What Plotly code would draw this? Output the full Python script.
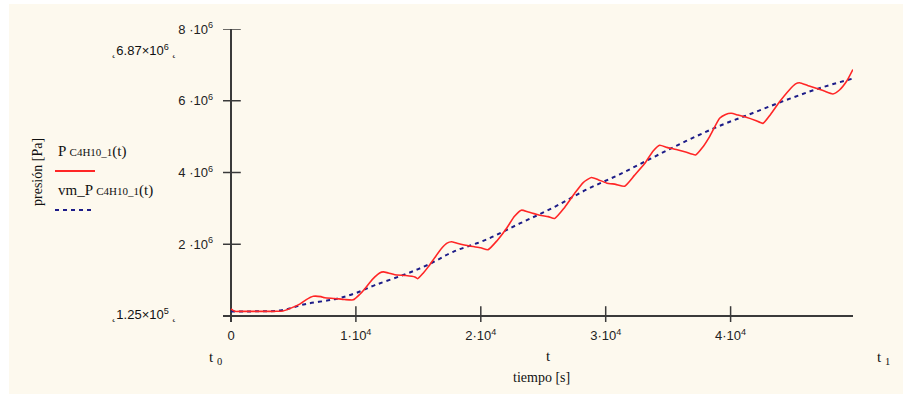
import plotly.graph_objects as go

# ---------------- data ----------------
t_P = [0, 300, 800, 2000, 3500, 4160, 4800, 5500, 6000, 6590, 7200, 7500, 8300, 9100, 9790,
       10300, 10720, 11100, 11520, 11900, 12190, 12600, 13120, 14000, 14720, 14940,
       15400, 15790, 16300, 16850, 17300, 17650, 18100, 19120, 20000, 20590,
       21300, 22050, 22700, 23250, 23800, 24720, 25400, 25920,
       26700, 27520, 28200, 28850, 29400, 30050, 30800, 31520,
       32300, 33120, 33800, 34320, 34900, 35650, 36400, 37200,
       37800, 38320, 39120, 39600, 40050, 40600, 41250, 42000, 42590,
       43200, 43920, 44700, 45200, 45520, 46200, 46850, 47500, 48190, 48720, 49300, 49790]
P_vals = [0.20e6, 0.13e6, 0.13e6, 0.13e6, 0.13e6, 0.14e6, 0.22e6, 0.33e6, 0.45e6, 0.55e6, 0.54e6, 0.51e6, 0.49e6, 0.46e6, 0.45e6,
          0.60e6, 0.76e6, 0.93e6, 1.09e6, 1.20e6, 1.23e6, 1.20e6, 1.15e6, 1.13e6, 1.09e6, 1.04e6,
          1.20e6, 1.37e6, 1.62e6, 1.88e6, 2.03e6, 2.07e6, 2.03e6, 1.95e6, 1.90e6, 1.85e6,
          2.10e6, 2.44e6, 2.78e6, 2.95e6, 2.90e6, 2.81e6, 2.77e6, 2.72e6,
          3.02e6, 3.42e6, 3.72e6, 3.86e6, 3.80e6, 3.71e6, 3.67e6, 3.62e6,
          3.92e6, 4.25e6, 4.60e6, 4.76e6, 4.70e6, 4.64e6, 4.57e6, 4.49e6,
          4.72e6, 5.00e6, 5.51e6, 5.62e6, 5.65e6, 5.60e6, 5.54e6, 5.45e6, 5.37e6,
          5.62e6, 5.97e6, 6.30e6, 6.47e6, 6.50e6, 6.42e6, 6.35e6, 6.27e6, 6.19e6, 6.30e6, 6.55e6, 6.87e6]

t_vm = [0, 2000, 4050, 5920, 8320, 9920, 11520, 13920, 15790, 17790, 20450, 23120, 25790,
        28450, 31120, 33790, 36450, 39120, 41790, 44450, 47120, 49790]
vm_vals = [0.125e6, 0.13e6, 0.16e6, 0.33e6, 0.47e6, 0.63e6, 0.86e6, 1.16e6, 1.43e6, 1.79e6, 2.13e6,
           2.58e6, 3.02e6, 3.52e6, 3.95e6, 4.42e6, 4.88e6, 5.30e6, 5.66e6, 6.02e6, 6.35e6, 6.62e6]

x_ticks = [0, 10000, 20000, 30000, 40000]
x_ticktext = ["0", "1·10<sup>4</sup>", "2·10<sup>4</sup>", "3·10<sup>4</sup>", "4·10<sup>4</sup>"]
y_ticks = [2e6, 4e6, 6e6, 8e6]
y_ticktext = ["2 ·10<sup>6</sup>", "4 ·10<sup>6</sup>", "6 ·10<sup>6</sup>", "8 ·10<sup>6</sup>"]

y_min_label = "1.25×10<sup>5</sup>"
y_max_label = "6.87×10<sup>6</sup>"
legend_1 = "P <span style='font-size:11px'>C4H10_1</span>(t)"
legend_2 = "vm_P <span style='font-size:11px'>C4H10_1</span>(t)"
y_title = "presión [Pa]"
x_title = "tiempo [s]"

# ---------------- layout geometry ----------------
W, H = 911, 394
ML, MR, MT, MB = 223, 58, 29, 72
PW, PH = W - ML - MR, H - MT - MB


def px(x):
    return (x - ML) / PW


def py(y):
    return (H - MB - y) / PH


CREAM = "#FDF9EE"
AX = "#3a3a3a"
SERIF = "Liberation Serif"
SANS = "Liberation Sans"

fig = go.Figure()

fig.add_trace(go.Scatter(x=t_vm, y=vm_vals, mode="lines", line=dict(color="#1c1c88", width=2, dash="4px,4px", shape="spline"),
                         showlegend=False, hoverinfo="skip"))
fig.add_trace(go.Scatter(x=t_P, y=P_vals, mode="lines", line=dict(color="#ff2626", width=1.6, shape="spline", smoothing=0.5),
                         showlegend=False, hoverinfo="skip"))

# tick marks crossing the axes
fig.add_trace(go.Scatter(x=x_ticks[1:], y=[0] * (len(x_ticks) - 1), mode="markers",
                         marker=dict(symbol="line-ns", size=14, line=dict(color=AX, width=1.5)),
                         showlegend=False, hoverinfo="skip"))
fig.add_trace(go.Scatter(x=[0] * len(y_ticks), y=y_ticks, mode="markers",
                         marker=dict(symbol="line-ew", size=14, line=dict(color=AX, width=1.5)),
                         showlegend=False, hoverinfo="skip"))

fig.update_xaxes(range=[-640, 49800], showgrid=False, zeroline=True, zerolinecolor=AX, zerolinewidth=2,
                 showline=False, tickvals=x_ticks, ticktext=x_ticktext, ticks="",
                 tickfont=dict(family=SANS, size=13, color="#222"), ticklabelstandoff=4)
fig.update_yaxes(range=[-167000, 8e6], showgrid=False, zeroline=True, zerolinecolor=AX, zerolinewidth=2,
                 showline=False, tickvals=y_ticks, ticktext=y_ticktext, ticks="",
                 tickfont=dict(family=SANS, size=13, color="#222"), ticklabelstandoff=9)

shapes = [
    dict(type="rect", xref="paper", yref="paper", x0=px(9), x1=px(903), y0=py(4), y1=py(400),
         fillcolor=CREAM, line=dict(width=0), layer="below"),
    dict(type="line", xref="paper", yref="paper", x0=px(55), x1=px(95), y0=py(171), y1=py(171),
         line=dict(color="#ff2626", width=2)),
    dict(type="line", xref="paper", yref="paper", x0=px(55), x1=px(95), y0=py(210), y1=py(210),
         line=dict(color="#1c1c88", width=2, dash="4px,4px")),
]

ann = []


def A(text, x, y, xa="center", size=12, family=SERIF, angle=0):
    ann.append(dict(text=text, xref="paper", yref="paper", x=px(x), y=py(y), xanchor=xa, yanchor="middle",
                    showarrow=False, font=dict(family=family, size=size, color="#111"), textangle=angle))


A("˛" + y_max_label + " ˛", 179, 50, xa="right", size=13, family=SANS)
A("˛" + y_min_label + " ˛", 179, 314, xa="right", size=13, family=SANS)
A(legend_1, 56, 151, xa="left", size=15)
A(legend_2, 56, 190, xa="left", size=15)
A(y_title, 37, 172, angle=-90, size=14)
A("t <sub>0</sub>", 215, 358, size=15)
A("t", 548, 356, size=15)
A("t <sub>1</sub>", 883, 358, size=15)
A(x_title, 541, 377, size=14)

fig.update_layout(width=W, height=H, margin=dict(l=ML, r=MR, t=MT, b=MB),
                  paper_bgcolor="white", plot_bgcolor="rgba(0,0,0,0)",
                  shapes=shapes, annotations=ann, showlegend=False)

fig.write_html("out.html", config={"displayModeBar": False},
               post_script="document.body.style.margin='0';document.body.style.padding='0';")
